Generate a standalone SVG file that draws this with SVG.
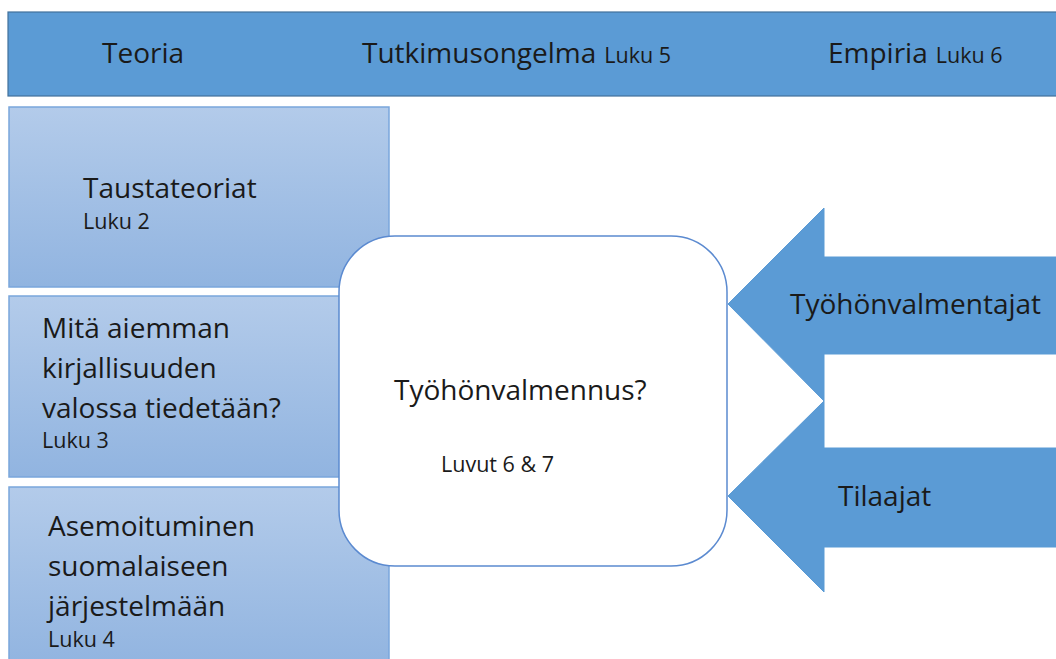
<svg xmlns="http://www.w3.org/2000/svg" width="1056" height="659" viewBox="0 0 1056 659">
<defs>
<linearGradient id="lg" x1="0" y1="0" x2="0" y2="1">
<stop offset="0" stop-color="#b3cbea"/>
<stop offset="1" stop-color="#91b4e0"/>
</linearGradient>
<style>
.t{font-family:"Open Sans","Liberation Sans",sans-serif;font-size:28px;fill:#1a1a1a}
.s{font-family:"Open Sans","Liberation Sans",sans-serif;font-size:21.5px;fill:#1a1a1a}
.box{fill:url(#lg);stroke:#7aa6dc;stroke-width:1.5}
.arr{fill:#5b9bd5;stroke:#5b9bd5;stroke-width:1}
</style>
</defs>
<rect width="1056" height="659" fill="#ffffff"/>
<g id="header">
<rect x="8" y="12" width="1060" height="84" fill="#5b9bd5" stroke="#41719c" stroke-width="1.2"/>
<text class="t" x="102" y="63">Teoria</text>
<text x="362" y="63"><tspan class="t">Tutkimusongelma</tspan><tspan class="s" dx="8">Luku 5</tspan></text>
<text x="828" y="63"><tspan class="t">Empiria</tspan><tspan class="s" dx="8">Luku 6</tspan></text>
</g>
<g id="taustateoriat">
<rect class="box" x="9" y="107" width="380" height="180"/>
<text class="t" x="83" y="198">Taustateoriat</text>
<text class="s" x="83" y="229">Luku 2</text>
</g>
<g id="kirjallisuus">
<rect class="box" x="9" y="296" width="380" height="181"/>
<text class="t" x="42" y="338">Mitä aiemman</text>
<text class="t" x="42" y="378">kirjallisuuden</text>
<text class="t" x="42" y="418">valossa tiedetään?</text>
<text class="s" x="42" y="448">Luku 3</text>
</g>
<g id="asemoituminen">
<rect class="box" x="9" y="487" width="380" height="180"/>
<text class="t" x="48" y="536">Asemoituminen</text>
<text class="t" x="48" y="576">suomalaiseen</text>
<text class="t" x="48" y="616">järjestelmään</text>
<text class="s" x="48" y="647">Luku 4</text>
</g>
<g id="connectors">
<polygon class="arr" points="1060,257 824,257 824,208 728,304 824,401 824,354 1060,354"/>
<polygon class="arr" points="1060,448 824,448 824,401 728,496 824,592 824,547 1060,547"/>
<text class="t" x="790" y="314">Työhönvalmentajat</text>
<text class="t" x="838" y="506">Tilaajat</text>
</g>
<g id="tyohonvalmennus">
<rect x="339" y="236" width="388" height="330" rx="56" ry="56" fill="#ffffff" stroke="#5b8ad0" stroke-width="1.5"/>
<text class="t" x="394" y="400">Työhönvalmennus?</text>
<text class="s" x="441" y="472">Luvut 6 &amp; 7</text>
</g>
</svg>
